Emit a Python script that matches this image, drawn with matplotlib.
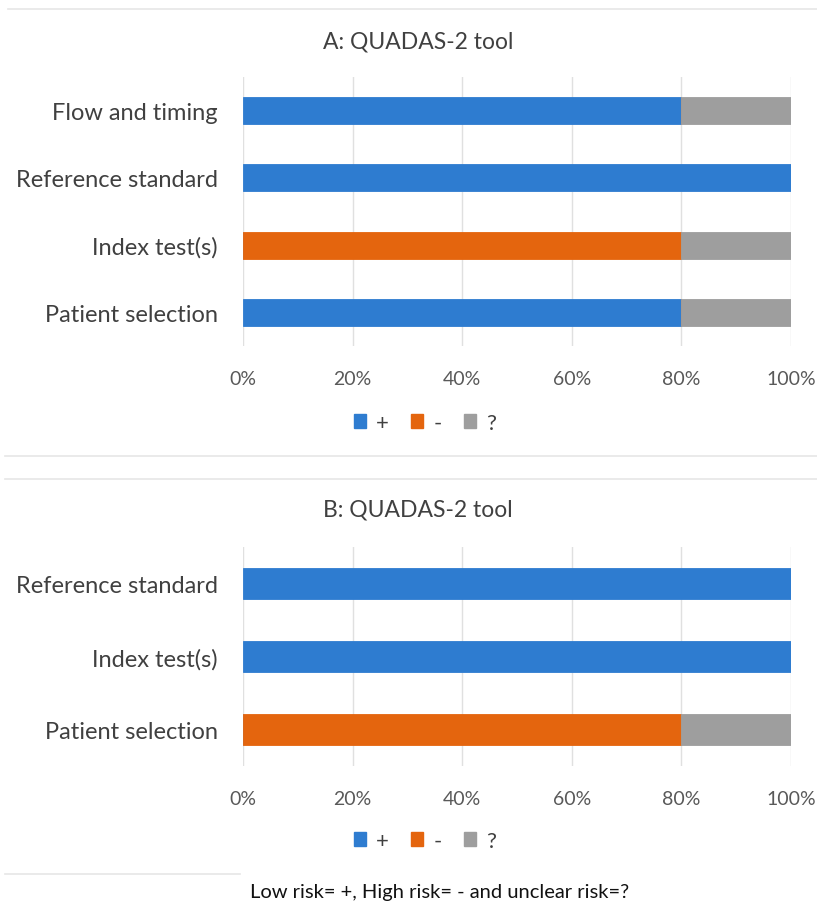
import matplotlib
matplotlib.use("Agg")
import matplotlib.pyplot as plt
from matplotlib.lines import Line2D
from matplotlib.patches import Patch

plt.rcParams['font.family'] = ['Lato', 'DejaVu Sans']

# Data
cats_a = ["Patient selection", "Index test(s)", "Reference standard", "Flow and timing"]
plus_a = [80, 0, 100, 80]
minus_a = [0, 80, 0, 0]
unclear_a = [20, 20, 0, 20]

cats_b = ["Patient selection", "Index test(s)", "Reference standard"]
plus_b = [0, 100, 100]
minus_b = [80, 0, 0]
unclear_b = [20, 0, 0]

series_names = ["+", "-", "?"]
colors = ["#2E7CD0", "#E4650E", "#9E9E9E"]
xticks = [0, 20, 40, 60, 80, 100]
xtick_labels = ["0%", "20%", "40%", "60%", "80%", "100%"]

W, H = 817, 903
fig = plt.figure(figsize=(W / 100, H / 100), dpi=100)


def px_axes(left, top, right, bottom):
    return fig.add_axes([left / W, 1 - bottom / H, (right - left) / W, (bottom - top) / H])


def draw(ax, cats, p, m, u, height, title, title_y, legend_y):
    y = list(range(len(cats)))
    left = [0] * len(cats)
    for vals, c in zip([p, m, u], colors):
        ax.barh(y, vals, left=left, height=height, color=c, edgecolor=c, linewidth=0.6, zorder=3)
        left = [a + b for a, b in zip(left, vals)]
    ax.set_xlim(0, 100)
    ax.set_ylim(-0.5, len(cats) - 0.5)
    ax.set_yticks(y)
    ax.set_yticklabels(cats, fontsize=17, color="#404040")
    ax.set_xticks(xticks)
    ax.set_xticklabels(xtick_labels, fontsize=14, color="#595959")
    ax.tick_params(axis="both", length=0)
    ax.tick_params(axis="y", pad=18)
    ax.tick_params(axis="x", pad=17)
    ax.grid(axis="x", color="#E0E0E0", linewidth=1, zorder=0)
    for s in ax.spines.values():
        s.set_visible(False)
    fig.text(418 / W, 1 - title_y / H, title, ha="center", va="center", fontsize=16.5, color="#404040")
    handles = [Patch(facecolor=c, edgecolor=c) for c in colors]
    fig.legend(handles, series_names, loc="center", bbox_to_anchor=(425 / W, 1 - legend_y / H),
               ncol=3, frameon=False, fontsize=16, handlelength=0.55, handleheight=0.55,
               handletextpad=0.45, columnspacing=1.0, labelcolor="#404040")


axA = px_axes(243, 78, 791, 347)
draw(axA, cats_a, plus_a, minus_a, unclear_a, 0.4, "A: QUADAS-2 tool", 42, 424)

axB = px_axes(243, 548, 791, 767)
draw(axB, cats_b, plus_b, minus_b, unclear_b, 0.42, "B: QUADAS-2 tool", 510, 842)

# panel separators
for (x0, x1, yy) in [(8, 817, 10), (5, 817, 457), (5, 817, 480), (5, 240, 875)]:
    fig.add_artist(Line2D([x0 / W, x1 / W], [1 - yy / H, 1 - yy / H], color="#E6E6E6", linewidth=1.2))

fig.text(440 / W, 1 - 893 / H, "Low risk= +, High risk= - and unclear risk=?", ha="center", va="center",
         fontsize=14.5, color="#111111")

fig.savefig("out.png", dpi=100)
